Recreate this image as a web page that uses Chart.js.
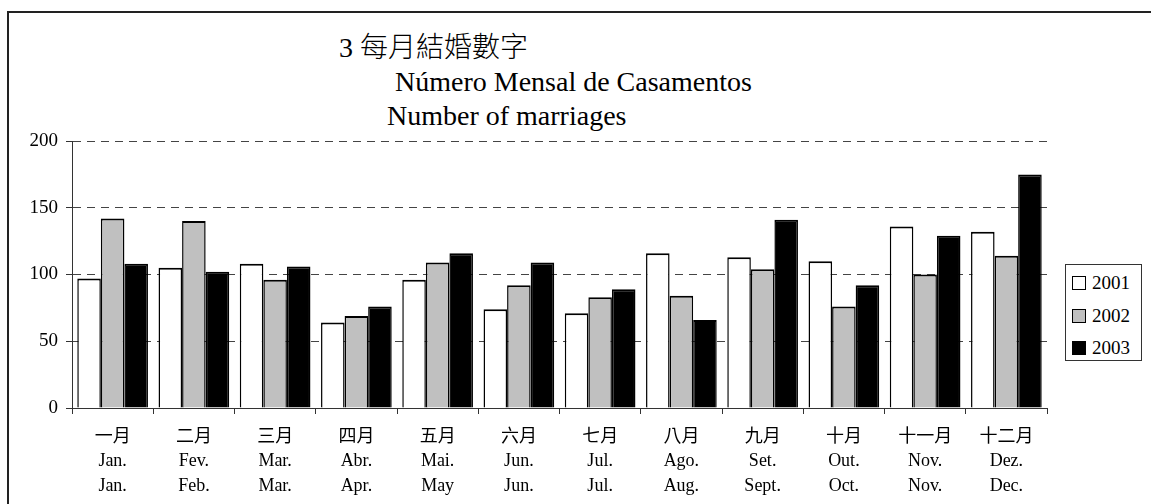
<!DOCTYPE html>
<html>
<head>
<meta charset="utf-8">
<script src="https://cdn.jsdelivr.net/npm/chart.js@4/dist/chart.umd.min.js"></script>
<style>
  body { margin: 0; background: #fff; overflow: hidden; }
  #wrap { position: relative; width: 1151px; height: 504px; }
  #frame {
    position: absolute; left: 7px; top: 11px; width: 1300px; height: 600px;
    border-top: 2px solid #222; border-left: 2px solid #222;
  }
  .ttl {
    position: absolute; white-space: nowrap; color: #000;
    font-family: 'Liberation Serif', 'Noto Sans CJK TC', serif;
    font-size: 28px; line-height: 28px;
  }
  .ttl.zh { font-weight: 300; }
  #legend {
    position: absolute; left: 1065px; top: 264px; width: 75px; height: 95px;
    border: 1px solid #333; background: #fff;
    font-family: 'Liberation Serif', serif; font-size: 19px; color: #000;
  }
  #legend .item { position: absolute; left: 6px; height: 20px; line-height: 20px; }
  #legend .sw {
    position: absolute; left: 0; top: 3px; width: 12px; height: 12px;
    border: 1px solid #000; box-sizing: content-box;
  }
  #legend .lbl { position: absolute; left: 20px; top: 0; }
  #chartBox { position: absolute; left: 0; top: 0; width: 1151px; height: 504px; }
</style>
</head>
<body>
<div id="wrap">
  <div id="frame"></div>
  <div class="ttl zh" style="left:339px; top:34px;">3 每月結婚數字</div>
  <div class="ttl" style="left:395px; top:68px;">Número Mensal de Casamentos</div>
  <div class="ttl" style="left:387px; top:102px;">Number of marriages</div>
  <div id="chartBox"><canvas id="marriagesCanvas"></canvas></div>
  <div id="legend"></div>
</div>
<script>
// ── Data ── //
const monthsZh = ['一月', '二月', '三月', '四月', '五月', '六月', '七月', '八月', '九月', '十月', '十一月', '十二月'];
const monthsPt = ['Jan.', 'Fev.', 'Mar.', 'Abr.', 'Mai.', 'Jun.', 'Jul.', 'Ago.', 'Set.', 'Out.', 'Nov.', 'Dez.'];
const monthsEn = ['Jan.', 'Feb.', 'Mar.', 'Apr.', 'May', 'Jun.', 'Jul.', 'Aug.', 'Sept.', 'Oct.', 'Nov.', 'Dec.'];

const years = ['2001', '2002', '2003'];
const values2001 = [97, 105, 108, 64, 96, 74, 71, 116, 113, 110, 136, 132];
const values2002 = [142, 140, 96, 69, 109, 92, 83, 84, 104, 76, 100, 114];
const values2003 = [108, 102, 106, 76, 116, 109, 89, 66, 141, 92, 129, 175];

const yTicks = [0, 50, 100, 150, 200];

const fills = ['#ffffff', '#c0c0c0', '#000000'];
const serif = "'Liberation Serif', 'Noto Sans CJK TC', serif";

// ── Build chart ── //
const labels = monthsZh.map((zh, i) => [zh, monthsPt[i], monthsEn[i]]);
const series = [values2001, values2002, values2003];

const ctx = document.getElementById('marriagesCanvas');
const marriagesChart = new Chart(ctx, {
  type: 'bar',
  data: {
    labels: labels,
    datasets: years.map((y, i) => ({
      label: y,
      data: series[i],
      backgroundColor: fills[i],
      borderColor: '#000',
      borderWidth: { top: 2, left: 1.5, right: 1.5, bottom: 0 },
      borderSkipped: false,
      categoryPercentage: 0.87,
      barPercentage: 1.0,
    })),
  },
  options: {
    responsive: true,
    maintainAspectRatio: false,
    animation: false,
    layout: { padding: { left: 0, top: 141, right: 104, bottom: 0 } },
    scales: {
      x: {
        grid: {
          offset: true,
          drawOnChartArea: false,
          drawTicks: true,
          tickLength: 6,
          color: '#333',
        },
        border: { color: '#333', width: 1 },
        ticks: {
          color: '#000',
          autoSkip: false,
          maxRotation: 0,
          padding: 11,
          font: { family: serif, size: 18, lineHeight: 1.36 },
        },
        afterFit: (scale) => { scale.height = 96; },
      },
      y: {
        min: yTicks[0],
        max: yTicks[yTicks.length - 1],
        afterBuildTicks: (scale) => { scale.ticks = yTicks.map(v => ({ value: v })); },
        grid: {
          color: '#444',
          lineWidth: 1,
          tickLength: 6,
          tickBorderDash: [],
          tickColor: '#333',
        },
        border: { color: '#333', width: 1, dash: [8, 6] },
        ticks: {
          color: '#000',
          padding: 8,
          font: { family: serif, size: 19 },
        },
        afterFit: (scale) => { scale.width = 72; },
      },
    },
    plugins: {
      legend: { display: false },
      title: { display: false },
      tooltip: { enabled: false },
    },
  },
});

// ── Legend ── //
const legendEl = document.getElementById('legend');
marriagesChart.data.datasets.forEach((ds, i) => {
  const item = document.createElement('div');
  item.className = 'item';
  item.style.top = (8 + i * 32.5) + 'px';
  item.innerHTML = '<span class="sw" style="background:' + ds.backgroundColor + '"></span>' +
    '<span class="lbl">' + ds.label + '</span>';
  legendEl.appendChild(item);
});
</script>
</body>
</html>
